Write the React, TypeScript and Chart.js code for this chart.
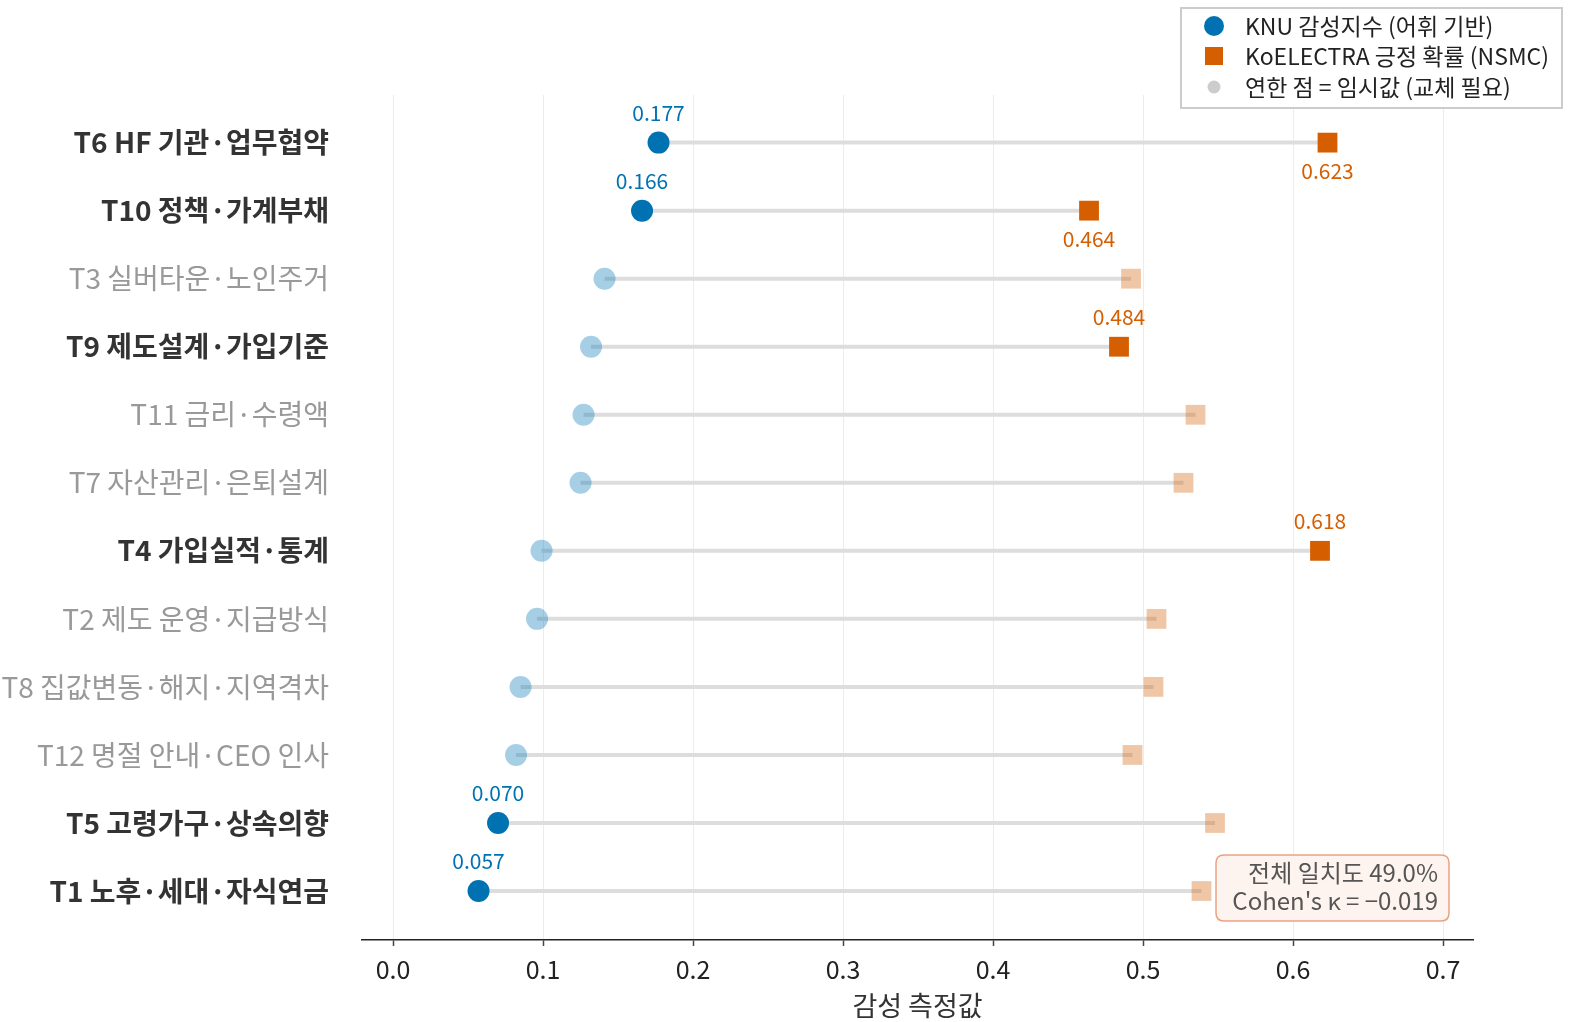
import { useEffect, useRef } from "react";
import { Chart, registerables } from "chart.js";

Chart.register(...registerables);

const topics = [
  "T6 HF 기관·업무협약",
  "T10 정책·가계부채",
  "T3 실버타운·노인주거",
  "T9 제도설계·가입기준",
  "T11 금리·수령액",
  "T7 자산관리·은퇴설계",
  "T4 가입실적·통계",
  "T2 제도 운영·지급방식",
  "T8 집값변동·해지·지역격차",
  "T12 명절 안내·CEO 인사",
  "T5 고령가구·상속의향",
  "T1 노후·세대·자식연금",
];

const knuValues = [0.177, 0.166, 0.141, 0.132, 0.127, 0.125, 0.099, 0.096, 0.085, 0.082, 0.070, 0.057];
const koValues = [0.623, 0.464, 0.492, 0.484, 0.535, 0.527, 0.618, 0.509, 0.507, 0.493, 0.548, 0.539];
const knuFinal = [true, true, false, false, false, false, false, false, false, false, true, true];
const koFinal = [true, true, false, true, false, false, true, false, false, false, false, false];

const xTicks = [0, 0.1, 0.2, 0.3, 0.4, 0.5, 0.6, 0.7];
const xTickLabels = ["0.0", "0.1", "0.2", "0.3", "0.4", "0.5", "0.6", "0.7"];

const legendLabels = ["KNU 감성지수 (어휘 기반)", "KoELECTRA 긍정 확률 (NSMC)", "연한 점 = 임시값 (교체 필요)"];
const annotationLines = ["전체 일치도 49.0%", "Cohen's κ = −0.019"];
const xTitle = "감성 측정값";

const BLUE = "#0072B2";
const ORANGE = "#D55E00";
const BLUE_FAINT = "rgba(0,114,178,0.35)";
const ORANGE_FAINT = "rgba(213,94,0,0.35)";
const FONT = "'Noto Sans CJK KR', 'Noto Sans', sans-serif";

const emphasized = topics.map((_, i) => knuFinal[i] || koFinal[i]);

function roundRect(ctx: CanvasRenderingContext2D, x: number, y: number, w: number, h: number, r: number) {
  ctx.beginPath();
  ctx.moveTo(x + r, y);
  ctx.lineTo(x + w - r, y);
  ctx.quadraticCurveTo(x + w, y, x + w, y + r);
  ctx.lineTo(x + w, y + h - r);
  ctx.quadraticCurveTo(x + w, y + h, x + w - r, y + h);
  ctx.lineTo(x + r, y + h);
  ctx.quadraticCurveTo(x, y + h, x, y + h - r);
  ctx.lineTo(x, y + r);
  ctx.quadraticCurveTo(x, y, x + r, y);
  ctx.closePath();
}

const overlayPlugin = {
  id: "overlay",
  afterDatasetsDraw(chart: any) {
    const ctx: CanvasRenderingContext2D = chart.ctx;
    const xs = chart.scales.x;
    const ys = chart.scales.y;
    ctx.save();
    ctx.font = `21px ${FONT}`;
    ctx.textAlign = "center";
    ctx.textBaseline = "middle";
    topics.forEach((_, i) => {
      const py = ys.getPixelForValue(i);
      if (knuFinal[i]) {
        ctx.fillStyle = BLUE;
        ctx.fillText(knuValues[i].toFixed(3), xs.getPixelForValue(knuValues[i]), py - 30);
      }
      if (koFinal[i]) {
        ctx.fillStyle = ORANGE;
        const dy = knuFinal[i] ? 28 : -30;
        ctx.fillText(koValues[i].toFixed(3), xs.getPixelForValue(koValues[i]), py + dy);
      }
    });
    ctx.restore();
  },
  afterDraw(chart: any) {
    const ctx: CanvasRenderingContext2D = chart.ctx;
    const area = chart.chartArea;
    ctx.save();
    // annotation box
    const bw = 233, bh = 66;
    const bx = area.right - 24 - bw;
    const by = area.bottom - 19 - bh;
    roundRect(ctx, bx, by, bw, bh, 8);
    ctx.fillStyle = "#fdf3ef";
    ctx.fill();
    ctx.strokeStyle = "#eba283";
    ctx.lineWidth = 1.5;
    ctx.stroke();
    ctx.fillStyle = "#555555";
    ctx.font = `24px ${FONT}`;
    ctx.textAlign = "right";
    ctx.textBaseline = "middle";
    ctx.fillText(annotationLines[0], bx + bw - 11, by + 18);
    ctx.fillText(annotationLines[1], bx + bw - 11, by + 46);

    // legend
    const lx = 1181, ly = 8, lw = 381, lh = 100;
    ctx.fillStyle = "rgba(255,255,255,0.9)";
    ctx.fillRect(lx, ly, lw, lh);
    ctx.strokeStyle = "#cccccc";
    ctx.lineWidth = 2;
    ctx.strokeRect(lx, ly, lw, lh);
    const rowY = [26, 56, 87];
    ctx.fillStyle = BLUE;
    ctx.beginPath();
    ctx.arc(1214, rowY[0], 10, 0, Math.PI * 2);
    ctx.fill();
    ctx.fillStyle = ORANGE;
    ctx.fillRect(1205, rowY[1] - 9, 18, 18);
    ctx.fillStyle = "#cccccc";
    ctx.beginPath();
    ctx.arc(1214, rowY[2], 6.5, 0, Math.PI * 2);
    ctx.fill();
    ctx.fillStyle = "#222222";
    ctx.font = `23px ${FONT}`;
    ctx.textAlign = "left";
    ctx.textBaseline = "middle";
    legendLabels.forEach((t, i) => ctx.fillText(t, 1245, rowY[i]));
    ctx.restore();
  },
};

export default function App() {
  const ref = useRef<HTMLCanvasElement>(null);
  useEffect(() => {
    if (!ref.current) return;
    const lineSets = topics.map((_, i) => ({
      type: "line" as const,
      data: [
        { x: knuValues[i], y: i },
        { x: koValues[i], y: i },
      ],
      borderColor: "#dddddd",
      borderWidth: 4,
      pointRadius: 0,
      fill: false,
      order: 3,
    }));
    const chart = new Chart(ref.current, {
      type: "scatter",
      data: {
        datasets: [
          ...lineSets,
          {
            type: "scatter" as const,
            label: legendLabels[0],
            data: topics.map((_, i) => ({ x: knuValues[i], y: i })),
            pointStyle: "circle",
            pointRadius: 11,
            pointBorderWidth: 0,
            backgroundColor: topics.map((_, i) => (knuFinal[i] ? BLUE : BLUE_FAINT)),
            borderColor: "rgba(0,0,0,0)",
            order: 1,
          },
          {
            type: "scatter" as const,
            label: legendLabels[1],
            data: topics.map((_, i) => ({ x: koValues[i], y: i })),
            pointStyle: "rect",
            pointRadius: 14,
            pointBorderWidth: 0,
            backgroundColor: topics.map((_, i) => (koFinal[i] ? ORANGE : ORANGE_FAINT)),
            borderColor: "rgba(0,0,0,0)",
            order: 1,
          },
        ] as any,
      },
      options: {
        responsive: false,
        animation: false,
        events: [],
        layout: { padding: { top: 95, right: 96, left: 0, bottom: 0 } },
        plugins: {
          legend: { display: false },
          tooltip: { enabled: false },
        },
        scales: {
          x: {
            type: "linear",
            min: -0.0207,
            max: 0.72,
            afterBuildTicks: (s: any) => {
              s.ticks = xTicks.map((v) => ({ value: v }));
            },
            afterFit: (s: any) => {
              s.height = 82;
            },
            ticks: {
              callback: (v: any) => {
                const idx = xTicks.findIndex((t) => Math.abs(t - Number(v)) < 1e-9);
                return idx >= 0 ? xTickLabels[idx] : "";
              },
              color: "#222222",
              font: { family: FONT, size: 25 },
              padding: 8,
              maxRotation: 0,
            },
            grid: {
              color: "#ececec",
              lineWidth: 1,
              tickColor: "#444444",
              tickLength: 6,
              tickWidth: 1.5,
            },
            border: { display: true, color: "#222222", width: 1.5 },
            title: {
              display: true,
              text: xTitle,
              color: "#333333",
              font: { family: FONT, size: 27 },
              padding: { top: 0, bottom: 0 },
            },
          },
          y: {
            type: "linear",
            reverse: true,
            min: -0.7,
            max: 11.72,
            afterBuildTicks: (s: any) => {
              s.ticks = topics.map((_, i) => ({ value: i }));
            },
            afterFit: (s: any) => {
              s.width = 362;
            },
            ticks: {
              callback: (v: any) => topics[Math.round(Number(v))] ?? "",
              color: (c: any) => (emphasized[c.index] ? "#333333" : "#999999"),
              font: (c: any) => ({
                family: FONT,
                size: 28,
                weight: emphasized[c.index] ? "bold" : "normal",
              }),
              padding: 33,
              autoSkip: false,
            },
            grid: { display: false, drawTicks: false },
            border: { display: false },
          },
        },
      },
      plugins: [overlayPlugin],
    } as any);
    return () => chart.destroy();
  }, []);
  return (
    <div style={{ position: "absolute", left: 0, top: 0, width: 1569, height: 1022, background: "#fff" }}>
      <canvas ref={ref} width={1569} height={1022} style={{ display: "block", width: 1569, height: 1022 }} />
    </div>
  );
}
